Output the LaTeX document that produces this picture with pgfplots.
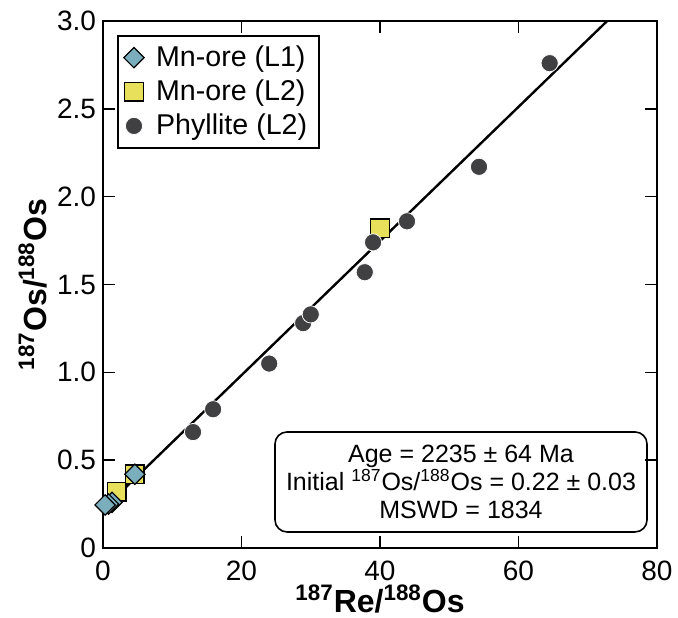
\documentclass[border=0pt]{standalone}
\usepackage{pgfplots}
\pgfplotsset{compat=1.18}
\usepackage{fontspec}
\setmainfont{Liberation Sans}
\definecolor{dia}{HTML}{7AAEBC}
\definecolor{sq}{HTML}{E8E05A}
\definecolor{ph}{HTML}{404043}
\begin{document}
\begin{tikzpicture}
\path[use as bounding box] (-51.5pt,-34.5pt) rectangle (287.5pt,274pt);
\begin{axis}[
  scale only axis, width=277pt, height=263.5pt,
  xmin=0, xmax=80, ymin=0, ymax=3,
  xtick={0,20,40,60,80},
  ytick={0,0.5,1,1.5,2,2.5,3},
  yticklabels={0,0.5,1.0,1.5,2.0,2.5,3.0},
  tick align=inside, major tick length=6pt,
  tick style={line width=0.8pt, black},
  axis line style={line width=1pt},
  /pgf/number format/assume math mode=true,
  ticklabel style={font=\fontsize{14}{16}\selectfont},
  xticklabel style={yshift=-3pt},
  xlabel={\textbf{\textsuperscript{187}Re/\textsuperscript{188}Os}},
  ylabel={\textbf{\textsuperscript{187}Os/\textsuperscript{188}Os}},
  label style={font=\fontsize{16}{18}\selectfont},
  xlabel style={yshift=5pt},
  ylabel style={yshift=-2pt},
  legend style={at={(0,1)}, anchor=north west, xshift=7pt, yshift=-7pt,
    font=\fontsize{14.3}{16}\selectfont, line width=0.8pt, draw=black,
    row sep=1.2pt, inner xsep=3pt, inner ysep=3pt, cells={anchor=west},
    nodes={inner xsep=3pt}},
  legend cell align=left,
  legend image post style={xshift=3pt},
]
\addlegendimage{only marks, mark=square*, mark size=3.6pt, mark options={rotate=45, fill=dia, draw=black, line width=0.6pt}}
\addlegendentry{\hspace{3pt}Mn-ore (L1)\hspace{4pt}}
\addlegendimage{only marks, mark=square*, mark size=4.6pt, mark options={fill=sq, draw=black, line width=0.6pt}}
\addlegendentry{\hspace{3pt}Mn-ore (L2)\hspace{4pt}}
\addlegendimage{only marks, mark=*, mark size=4.3pt, mark options={fill=ph, draw=white, line width=0.4pt}}
\addlegendentry{\hspace{3pt}Phyllite (L2)\hspace{4pt}}
% fit line
\addplot[forget plot, black, line width=1.2pt] coordinates {(0,0.22) (72.8,3.0)};
% Mn-ore L2
\addplot[forget plot, only marks, mark=square*, mark size=4.6pt, mark options={fill=sq, draw=black, line width=0.6pt}] coordinates {
(2.0,0.32) (4.6,0.42) (40.0,1.82)};
% Mn-ore L1
\addplot[forget plot, only marks, mark=square*, mark size=3.6pt, mark options={rotate=45, fill=dia, draw=black, line width=0.6pt}] coordinates {
(1.3,0.26) (0.8,0.25) (0.3,0.245) (4.6,0.42)};
% Phyllite
\addplot[forget plot, only marks, mark=*, mark size=4.3pt, mark options={fill=ph, draw=white, line width=0.4pt}] coordinates {
(13.0,0.66) (15.9,0.79) (24.0,1.05) (28.9,1.28) (30.0,1.33) (37.8,1.57) (39.0,1.74) (43.9,1.86) (54.3,2.17) (64.5,2.76)};
\node[draw=black, line width=0.8pt, rounded corners=6pt, align=center,
  minimum width=186pt, minimum height=50pt, inner sep=2pt,
  font=\fontsize{12.5}{14}\selectfont] at (axis cs:51.7,0.376)
  {Age = 2235 ± 64 Ma\\Initial \textsuperscript{187}Os/\textsuperscript{188}Os = 0.22 ± 0.03\\MSWD = 1834};
\end{axis}
\end{tikzpicture}
\end{document}
